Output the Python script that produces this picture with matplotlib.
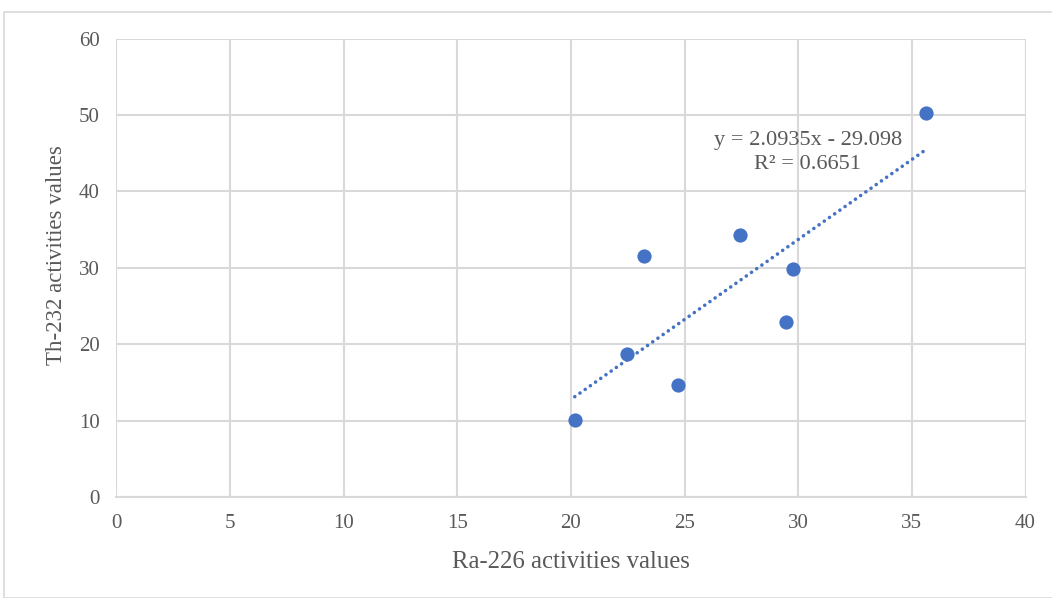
import numpy as np
import matplotlib.pyplot as plt
from matplotlib.patches import Rectangle

# Ra-226 vs Th-232 activity readings
ra226 = [20.17, 22.45, 23.22, 24.72, 27.44, 29.45, 29.77, 35.61]
th232 = [10.04, 18.76, 31.58, 14.70, 34.25, 22.94, 29.84, 50.20]

# linear trendline coefficients and fit quality
slope = 2.0935
intercept = -29.098
r_squared = 0.6651

x_ticks = [0, 5, 10, 15, 20, 25, 30, 35, 40]
y_ticks = [0, 10, 20, 30, 40, 50, 60]

plt.rcParams['font.family'] = ['Liberation Serif', 'DejaVu Serif']
text_color = '#595959'
grid_color = '#d9d9d9'
blue = '#4472C4'

W, H = 1052, 598
fig = plt.figure(figsize=(W / 100, H / 100), dpi=100)

# chart area frame (runs off the right and bottom edges)
fig.patches.append(Rectangle((4 / W, 0), 1.2, 1 - 12 / H, transform=fig.transFigure,
                             fill=False, edgecolor=grid_color, linewidth=1.2))

left, right, top, bottom = 116.3, 1025.5, 38.6, 497
ax = fig.add_axes([left / W, 1 - bottom / H, (right - left) / W, (bottom - top) / H])

ax.set_xlim(0, 40)
ax.set_ylim(0, 60)
ax.set_xticks(x_ticks)
ax.set_yticks(y_ticks)
ax.grid(True, color=grid_color, linewidth=1.5)
ax.set_axisbelow(True)
for side in ['top', 'right', 'left']:
    ax.spines[side].set_visible(False)
ax.spines['bottom'].set_color(grid_color)
ax.spines['bottom'].set_linewidth(1.5)
ax.tick_params(length=0, labelsize=15, colors=text_color, pad=12)

ax.scatter(ra226, th232, s=105, color=blue, zorder=3, linewidths=0)

# trendline over the data range
xs = np.array([min(ra226), max(ra226)])
ax.plot(xs, slope * xs + intercept, color=blue, linewidth=2.6,
        linestyle=(0, (0.01, 1.75)), dash_capstyle='round', zorder=2)

ax.text(30.43, 45.1, f"y = {slope}x - {abs(intercept)}\nR² = {r_squared}",
        ha='center', va='center', fontsize=16.1, color=text_color, linespacing=1.35)

ax.set_xlabel('Ra-226 activities values', fontsize=17.8, color=text_color, labelpad=13)
ax.set_ylabel('Th-232 activities values', fontsize=16.5, color=text_color)
ax.yaxis.set_label_coords(-0.054, 0.527)

fig.savefig('out.png', dpi=100)
